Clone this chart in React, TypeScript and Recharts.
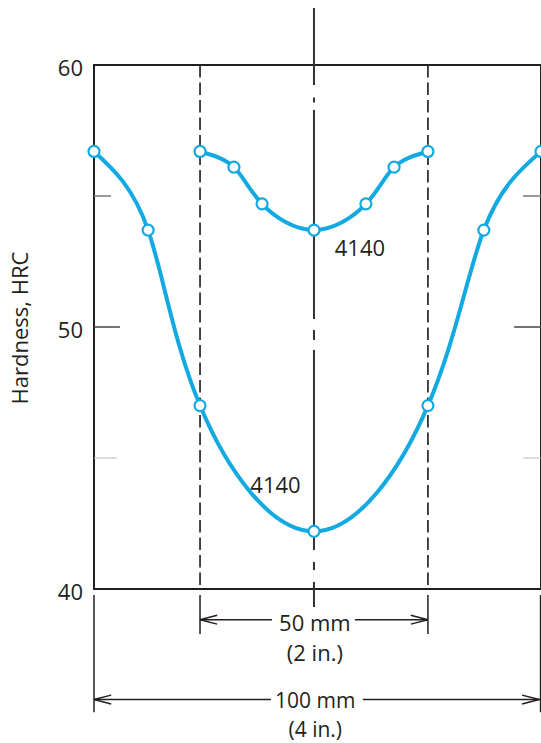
import React from 'react';
import {
  LineChart,
  Line,
  XAxis,
  YAxis,
  ReferenceLine,
  ReferenceArea,
  ReferenceDot,
  Label,
} from 'recharts';

// ---------- data ----------
// position across the bar, mm from the centre line
const outerPositions = [-50, -37.7, -25.9, 0, 25.9, 38.6, 51.6];
// hardness (HRC) of the 100 mm (4 in.) bar
const outerHardness = [56.7, 53.7, 47.0, 42.2, 47.0, 53.7, 56.7];
// position across the 50 mm bar, mm from the centre line
const innerPositions = [-25.9, -18.2, -11.8, 0, 11.8, 18.2, 25.9];
// hardness (HRC) of the 50 mm (2 in.) bar
const innerHardness = [56.7, 56.1, 54.7, 53.7, 54.7, 56.1, 56.7];

const yTicks = [40, 50, 60];
const minorTicks = [45, 55];
const curveLabel = '4140';
const yTitle = 'Hardness, HRC';
const dimLabels50 = ['50 mm', '(2 in.)'];
const dimLabels100 = ['100 mm', '(4 in.)'];

const outerData = outerPositions.map((x, i) => ({ x, y: outerHardness[i] }));
const innerData = innerPositions.map((x, i) => ({ x, y: innerHardness[i] }));

// ---------- styling / layout ----------
if (typeof document !== 'undefined') {
  document.body.style.margin = '0';
}

const FONT = '"Open Sans", "Liberation Sans", sans-serif';
const INK = '#231f20';
const CYAN = '#13a9e1';
const X_MIN = -50;
const X_MAX = 51.6;
const Y_MIN = 40;
const Y_MAX = 60;
const HALF = 25.9; // half width of the 50 mm bar in plot units

type Seg = { x1: number; y1: number; x2: number; y2: number; stroke?: string; w?: number; dash?: string };

function arrowHead(tx: number, ty: number, dir: number): Seg[] {
  const len = 3.9;
  const spread = 0.17;
  return [
    { x1: tx, y1: ty, x2: tx - dir * len, y2: ty + spread, w: 1.5 },
    { x1: tx, y1: ty, x2: tx - dir * len, y2: ty - spread, w: 1.5 },
  ];
}

const segments: Seg[] = [
  // centre line (chain line)
  { x1: 0, y1: 62.18, x2: 0, y2: 39.31, stroke: '#333', w: 2, dash: '77 12.7 5 7.3 209 11 10 10 200 12 8 12 40' },
  // dashed lines for 50 mm bar
  { x1: -HALF, y1: Y_MAX, x2: -HALF, y2: Y_MIN, stroke: '#333', w: 1.8, dash: '12.5 5' },
  { x1: HALF, y1: Y_MAX, x2: HALF, y2: Y_MIN, stroke: '#333', w: 1.8, dash: '12.5 5' },
  // extension lines
  { x1: -HALF, y1: 39.77, x2: -HALF, y2: 38.28, w: 1.5 },
  { x1: HALF, y1: 39.77, x2: HALF, y2: 38.28, w: 1.5 },
  { x1: X_MIN, y1: 39.77, x2: X_MIN, y2: 35.3, w: 1.5 },
  { x1: X_MAX - 0.1, y1: 39.77, x2: X_MAX - 0.1, y2: 35.3, w: 1.5 },
  // inner ticks
  { x1: X_MIN, y1: 50, x2: -44.1, y2: 50, stroke: '#444', w: 1.5 },
  { x1: X_MIN, y1: minorTicks[0], x2: -44.8, y2: minorTicks[0], stroke: '#bbb', w: 1 },
  { x1: X_MIN, y1: minorTicks[1], x2: -46.1, y2: minorTicks[1], stroke: '#777', w: 1.5 },
  { x1: X_MAX, y1: 50, x2: 45.5, y2: 50, stroke: '#444', w: 1.5 },
  { x1: X_MAX, y1: minorTicks[0], x2: 47.5, y2: minorTicks[0], stroke: '#bbb', w: 1 },
  { x1: X_MAX, y1: minorTicks[1], x2: 47.5, y2: minorTicks[1], stroke: '#777', w: 1.5 },
  // 50 mm dimension
  { x1: -HALF, y1: 38.83, x2: -9.55, y2: 38.83, w: 1.5 },
  { x1: 9.3, y1: 38.83, x2: HALF, y2: 38.83, w: 1.5 },
  ...arrowHead(-HALF, 38.83, -1),
  ...arrowHead(HALF, 38.83, 1),
  // 100 mm dimension
  { x1: X_MIN, y1: 35.78, x2: -9.8, y2: 35.78, w: 1.5 },
  { x1: 11.1, y1: 35.78, x2: X_MAX, y2: 35.78, w: 1.5 },
  ...arrowHead(X_MIN, 35.78, -1),
  ...arrowHead(X_MAX - 0.4, 35.78, 1),
];

const texts = [
  { x: 10.45, y: 53.0, text: curveLabel, size: 22 },
  { x: -8.75, y: 43.97, text: curveLabel, size: 22 },
  { x: 0.2, y: 38.7, text: dimLabels50[0], size: 22 },
  { x: 0.2, y: 37.56, text: dimLabels50[1], size: 22 },
  { x: 0.3, y: 35.75, text: dimLabels100[0], size: 21 },
  { x: 0.3, y: 34.64, text: dimLabels100[1], size: 21 },
];

const renderTick = (props: any) => {
  const { x, y, payload } = props;
  return (
    <text x={x} y={y + 11} textAnchor="end" fontSize={22} fontFamily={FONT} fill={INK}>
      {payload.value}
    </text>
  );
};

const renderYLabel = (props: any) => {
  const vb = props.viewBox || { x: 0, y: 65, width: 94, height: 524 };
  const cx = vb.x + 28;
  const cy = vb.y + vb.height / 2 + 1;
  return (
    <text
      x={cx}
      y={cy}
      transform={`rotate(-90 ${cx} ${cy})`}
      textAnchor="middle"
      fontSize={22}
      fontFamily={FONT}
      fill={INK}
    >
      {yTitle}
    </text>
  );
};

export default function App() {
  return (
    <div style={{ width: 541, height: 743 }}>
      <LineChart width={541} height={743} margin={{ top: 65, right: 0, bottom: 154, left: 0 }}>
        <XAxis type="number" dataKey="x" domain={[X_MIN, X_MAX]} hide />
        <YAxis
          type="number"
          domain={[Y_MIN, Y_MAX]}
          ticks={yTicks}
          interval={0}
          width={94}
          tickLine={false}
          axisLine={false}
          tickSize={6}
          tickMargin={5}
          tick={renderTick}
        >
          <Label content={renderYLabel} />
        </YAxis>
        <ReferenceArea
          x1={X_MIN}
          x2={X_MAX}
          y1={Y_MIN}
          y2={Y_MAX}
          fill="none"
          fillOpacity={0}
          stroke={INK}
          strokeWidth={2}
          ifOverflow="visible"
        />
        {segments.map((s, i) => (
          <ReferenceLine
            key={`s${i}`}
            segment={[
              { x: s.x1, y: s.y1 },
              { x: s.x2, y: s.y2 },
            ]}
            stroke={s.stroke || INK}
            strokeWidth={s.w || 1.5}
            strokeDasharray={s.dash}
            ifOverflow="visible"
          />
        ))}
        {texts.map((t, i) => (
          <ReferenceDot
            key={`t${i}`}
            x={t.x}
            y={t.y}
            r={0}
            fill="none"
            stroke="none"
            ifOverflow="visible"
            label={{ value: t.text, position: 'center', fill: INK, fontSize: t.size, fontFamily: FONT }}
          />
        ))}
        <Line
          data={outerData}
          dataKey="y"
          type="natural"
          stroke={CYAN}
          strokeWidth={4}
          dot={{ r: 5.5, fill: '#fff', stroke: CYAN, strokeWidth: 2.2 }}
          isAnimationActive={false}
        />
        <Line
          data={innerData}
          dataKey="y"
          type="natural"
          stroke={CYAN}
          strokeWidth={4}
          dot={{ r: 5.5, fill: '#fff', stroke: CYAN, strokeWidth: 2.2 }}
          isAnimationActive={false}
        />
      </LineChart>
    </div>
  );
}
